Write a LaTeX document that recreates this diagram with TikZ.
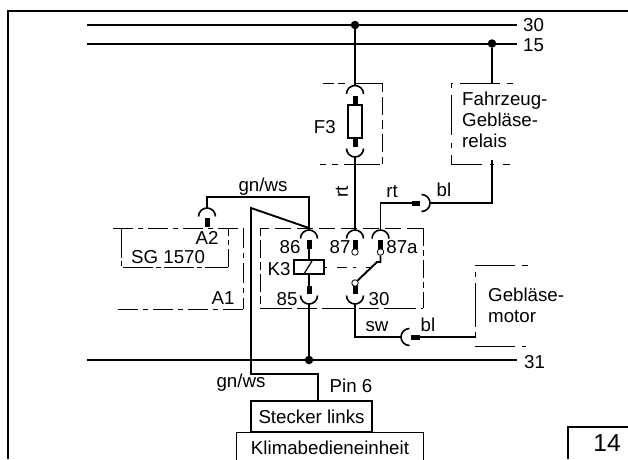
\documentclass[tikz,border=0pt]{standalone}
\usepackage{fontspec}
\setmainfont{Liberation Sans}
\tikzset{
 x=1pt,y=1pt,
 wire/.style={line width=1.9pt},
 bus/.style={line width=2pt},
 thinline/.style={line width=0.85pt},
 dd/.style={line width=0.85pt,dash pattern=on 20pt off 5pt on 5pt off 5pt},
 lab/.style={inner sep=0pt,font=\fontsize{18.7}{22}\selectfont},
 multi/.style={lab,anchor=north west,align=left,font=\fontsize{18.7}{21}\selectfont},
 dot/.style={circle,fill=black,inner sep=0pt,minimum size=8.5pt},
 hole/.style={circle,draw=black,fill=white,line width=0.8pt,inner sep=0pt,minimum size=6.5pt},
 boxed/.style={draw,line width=1.3pt,inner sep=0pt},
 conn/.pic={
  \draw[line width=1.6pt] (-8.5,0) arc[start angle=180,end angle=0,radius=8.5];
  \fill[black] (-2.5,-1.5) rectangle (2.5,-10);
 },
}
\begin{document}
\begin{tikzpicture}
\useasboundingbox (0,0) rectangle (628,-459);
\clip (0,0) rectangle (628,-459);
\fill[white] (0,0) rectangle (628,-459);
% frame
\coordinate (fa) at (8,-459); \coordinate (fb) at (8,-11); \coordinate (fc) at (628,-11);
\draw[line width=2pt] (fa) -- (fb) -- (fc);
% buses
\node[lab,anchor=west] (t30) at (523,-25) {30};
\node[lab,anchor=west] (t15) at (523,-45) {15};
\node[lab,anchor=west] (t31) at (524,-362) {31};
\coordinate (b30) at (87,-25); \coordinate (b15) at (87,-44); \coordinate (b31) at (87,-360);
\coordinate (e30) at (517,-25); \coordinate (e15) at (517,-44); \coordinate (e31) at (517,-360);
\draw[bus] (b30) -- (e30);
\draw[bus] (b15) -- (e15);
\draw[bus] (b31) -- (e31);
\node[dot] (d30) at (355,-25) {};
\node[dot] (d15) at (492,-43.5) {};
\node[dot] (d31) at (309,-360) {};
% F3
\draw[thinline,dash pattern=on 11pt off 4pt on 7pt off 10pt on 27pt off 2pt] (323,-83) -- (382,-83);
\draw[thinline,dash pattern=on 9pt off 5pt on 18pt off 5pt] (382,-83) -- (382,-164);
\draw[thinline,dash pattern=on 6pt off 6pt on 6pt off 6pt on 36pt] (320,-164) -- (382,-164);
\node[lab,anchor=east] (f3) at (336,-127) {F3};
\pic at (355,-94) {conn};
\pic[rotate=180] at (355,-148.5) {conn};
\node[draw,line width=1.3pt,fill=white,minimum width=14pt,minimum height=33pt,inner sep=0pt] (fuse) at (355,-121.5) {};
\fill[black] (352.5,-100) rectangle (357.5,-105);
\fill[black] (352.5,-138) rectangle (357.5,-145);
\coordinate (f1) at (355,-85.5); \coordinate (f2) at (355,-157);
\draw[wire] (d30) -- (f1);
% Fahrzeug
\draw[thinline] (453,-83) -- (451,-83) -- (451,-88);
\draw[thinline] (451,-95) -- (451,-135);
\draw[thinline] (451,-143) -- (451,-148);
\draw[thinline] (451,-155) -- (451,-164) -- (482,-164);
\draw[thinline] (460,-83) -- (500,-83);
\draw[thinline] (507,-83) -- (513,-83);
\draw[thinline] (490,-164) -- (494,-164);
\draw[thinline] (503,-164) -- (510,-164);
\node[multi] (fz) at (462,-92) {Fahrzeug-\\Gebläse-\\relais};
\coordinate (fzt) at (492,-83); \coordinate (fzb) at (492,-160);
\draw[wire] (d15) -- (fzt);
\coordinate (c1) at (492,-203);
\draw[wire] (fzb) -- (c1) -- (430,-203);
% rt wire
\pic[rotate=-90] at (421.5,-203) {conn};
\draw[wire] (412,-203) -- (380.5,-203) -- (380.5,-231);
\node[lab] (lrt) at (392,-192) {rt};
\node[lab] (lbl) at (444,-190) {bl};
% F3 to 87
\draw[wire] (f2) -- (355,-231);
\node[lab,rotate=90] (lrt2) at (342,-192) {rt};
% relay box
\draw[thinline,dash pattern=on 16pt off 6pt on 16pt off 6pt] (423,-228) -- (260,-228);
\draw[thinline,dash pattern=on 8pt off 4pt on 18pt off 4pt] (260,-228) -- (260,-308);
\draw[thinline,dash pattern=on 32pt off 5pt on 20pt off 5pt] (260,-308) -- (423,-308);
\draw[thinline,dash pattern=on 18pt off 4pt on 6pt off 4pt] (423,-228) -- (423,-308);
% contacts
\pic at (309,-238.5) {conn};
\pic at (355,-238.5) {conn};
\pic at (380.5,-238.5) {conn};
\pic[rotate=180] at (309,-295.5) {conn};
\pic[rotate=180] at (355,-295.5) {conn};
\node[hole] (h87) at (355,-252) {};
\node[hole] (h87a) at (380.5,-252) {};
\node[hole] (h30) at (355,-283) {};
\draw[wire] (h30) -- (377,-262) -- (380.5,-262) -- (h87a);
\draw[thinline,dash pattern=on 3pt off 10pt on 10pt off 6pt] (324,-267) -- (372,-267);
\node[draw,line width=1.6pt,minimum width=30pt,minimum height=14pt,inner sep=0pt,fill=white] (k3) at (309,-267) {};
\draw[line width=1.2pt] (304.5,-273) -- (312,-261);
\draw[wire] (309,-248) -- (k3.north);
\draw[wire] (k3.south) -- (309,-286);
\draw[wire] (309,-304) -- (d31);
\node[lab] (l86) at (290,-247) {86};
\node[lab] (l87) at (340,-247) {87};
\node[lab] (l87a) at (402,-247) {87a};
\node[lab] (lk3) at (279,-269) {K3};
\node[lab] (l85) at (287,-299) {85};
\node[lab] (l30) at (379,-299) {30};
% sw
\draw[wire] (355,-304) -- (355,-337) -- (401,-337);
\pic[rotate=90] at (409.5,-337) {conn};
\node[lab] (lsw) at (377,-327) {sw};
\node[lab] (lbl2) at (428,-325) {bl};
\coordinate (gm) at (475,-337);
\draw[wire] (419,-337) -- (gm);
% Geblaese
\draw[thinline] (475,-265) -- (515,-265);
\draw[thinline] (522,-265) -- (528,-265);
\draw[thinline] (475,-346) -- (515,-346);
\draw[thinline] (522,-346) -- (526,-346);
\draw[thinline] (475,-272) -- (475,-277);
\draw[thinline] (475,-283) -- (475,-327);
\draw[thinline] (475,-332) -- (475,-338);
\node[multi] (gb) at (488,-288) {Gebläse-\\motor};
% A2 and SG
\draw[dd] (113,-228) -- (243,-228);
\draw[dd] (243,-228) -- (243,-309);
\draw[dd] (243,-309) -- (115,-309);
\draw[thinline,dash pattern=on 30pt off 3pt on 5pt off 3pt] (121,-228) -- (121,-267) -- (228,-267);
\draw[thinline,dash pattern=on 18pt off 4pt on 5pt off 4pt] (228,-267) -- (228,-228);
\pic at (207,-216.5) {conn};
\node[lab] (la2) at (207,-238) {A2};
\node[lab,anchor=west] (sg) at (131,-257) {SG 1570};
\node[lab] (la1) at (223,-298) {A1};
\draw[wire] (207,-208) -- (207,-197) -- (309,-197) -- (309,-230);
\node[lab] (lgn) at (263,-187) {gn/ws};
% lower boxes
\node[boxed,minimum width=121pt,minimum height=31pt,font=\fontsize{18.7}{22}\selectfont] (st) at (311.5,-416.5) {Stecker links};
\node[boxed,anchor=north west,minimum width=187pt,minimum height=40pt] (kl) at (236,-432) {};
\node[lab] (klt) at (330,-448) {Klimabedieneinheit};
\node[lab] (lgn2) at (241,-383) {gn/ws};
\node[lab] (pin) at (351,-386) {Pin 6};
\coordinate (s1) at (318,-401);
\draw[wire] (309,-228) -- (251,-208) -- (251,-374) -- (318,-374) -- (s1);
% 14
\coordinate (na) at (568,-459); \coordinate (nb) at (568,-427); \coordinate (nc) at (628,-427);
\draw[line width=2pt] (na) -- (nb) -- (nc);
\node[lab,font=\fontsize{24.5}{28}\selectfont] (n14) at (607,-443) {14};
\end{tikzpicture}
\end{document}
